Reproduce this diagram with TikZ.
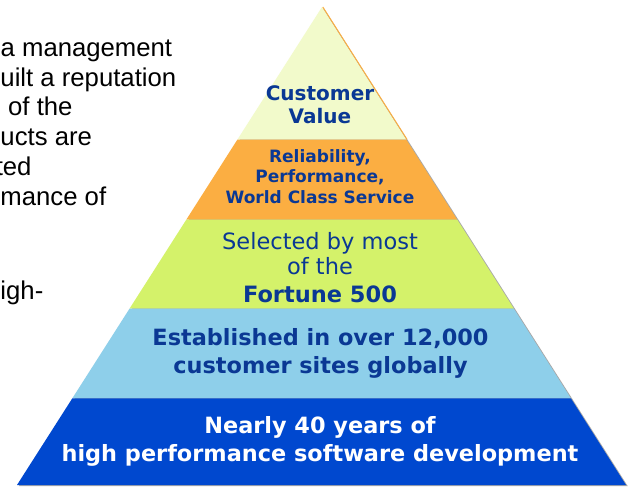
\documentclass[tikz,border=0pt]{standalone}
\usepackage{fontspec}
\setmainfont{DejaVu Sans}
\newfontfamily\pyrfont{DejaVu Sans}
\newfontfamily\arialfont{Liberation Sans}
\usetikzlibrary{calc}
\definecolor{ltyel}{HTML}{F2FACB}
\definecolor{orng}{HTML}{FBAE42}
\definecolor{lgrn}{HTML}{D4F26A}
\definecolor{lblu}{HTML}{8ECFEA}
\definecolor{dblu}{HTML}{0048CF}
\definecolor{navy}{HTML}{0A3894}
\definecolor{shadowgray}{HTML}{A8A8A8}
\tikzset{
  sidetext/.style={anchor=base west, inner sep=0pt, font=\arialfont\fontsize{25.7}{30}\selectfont, text=black},
  tierbold/.style={anchor=base, inner sep=0pt, text=navy, font=\pyrfont\bfseries\fontsize{#1}{#1}\selectfont},
  tierreg/.style={anchor=base, inner sep=0pt, text=navy, font=\pyrfont\fontsize{#1}{#1}\selectfont},
  tierwhite/.style={anchor=base, inner sep=0pt, text=white, font=\pyrfont\bfseries\fontsize{#1}{#1}\selectfont},
}
\begin{document}
\begin{tikzpicture}[x=1pt,y=-1pt]
\fill[white] (0,0) rectangle (635,487);
\useasboundingbox (0,0) rectangle (635,487);
% pyramid corners
\coordinate (A) at (322,7);
\coordinate (BL) at (17,485);
\coordinate (BR) at (626,485);
\foreach \n/\t in {1/0.2772,2/0.4446,3/0.6312,4/0.8186}{
  \coordinate (L\n) at ($(A)!\t!(BL)$);
  \coordinate (R\n) at ($(A)!\t!(BR)$);
}
% shadow
\fill[shadowgray] ([shift={(1.8,1.2)}]A) -- ([shift={(1.8,1.2)}]BR) -- ([shift={(1.8,1.2)}]BL) -- cycle;
% tiers
\fill[ltyel] (A) -- (R1) -- (L1) -- cycle;
\draw[orng, line width=1pt] ([xshift=0.8]A) -- ([xshift=0.8]R1);
\fill[orng] (L1) -- (R1) -- (R2) -- (L2) -- cycle;
\fill[lgrn] (L2) -- (R2) -- (R3) -- (L3) -- cycle;
\fill[lblu] (L3) -- (R3) -- (R4) -- (L4) -- cycle;
\fill[dblu] (L4) -- (R4) -- (BR) -- (BL) -- cycle;
% tier texts
\node[tierbold=20] (cv1) at (320,100.7) {Customer};
\node[tierbold=20] (cv2) at (320,124) {Value};
\node[tierbold=17] (rp1) at (320,162.3) {Reliability,};
\node[tierbold=17] (rp2) at (320,182.8) {Performance,};
\node[tierbold=17] (rp3) at (320,203.3) {World Class Service};
\node[tierreg=22.5] (sf1) at (320,249.3) {Selected by most};
\node[tierreg=22.5] (sf2) at (320,274.3) {of the};
\node[tierbold=22.5] (sf3) at (320,302.7) {Fortune 500};
\node[tierbold=22.4] (es1) at (320.5,345) {Established in over 12,000};
\node[tierbold=22.4] (es2) at (320.5,373.3) {customer sites globally};
\node[tierwhite=22.4] (ny1) at (320,433.3) {Nearly 40 years of};
\node[tierwhite=22.4] (ny2) at (320,461) {high performance software development};
% side text (cropped slide text)
\node[sidetext] (s1) at (0.5,56.7) {a management};
\node[sidetext] (s2) at (0.3,86.3) {uilt a reputation};
\node[sidetext] (s3) at (8,115.9) {of the};
\node[sidetext] (s4) at (0.3,145.5) {ucts are};
\node[sidetext, anchor=base east] (s5) at (31.7,175.5) {ted};
\node[sidetext] (s6) at (0.3,205) {mance of};
\node[sidetext] (s7) at (0.3,299) {igh-};
\end{tikzpicture}
\end{document}
